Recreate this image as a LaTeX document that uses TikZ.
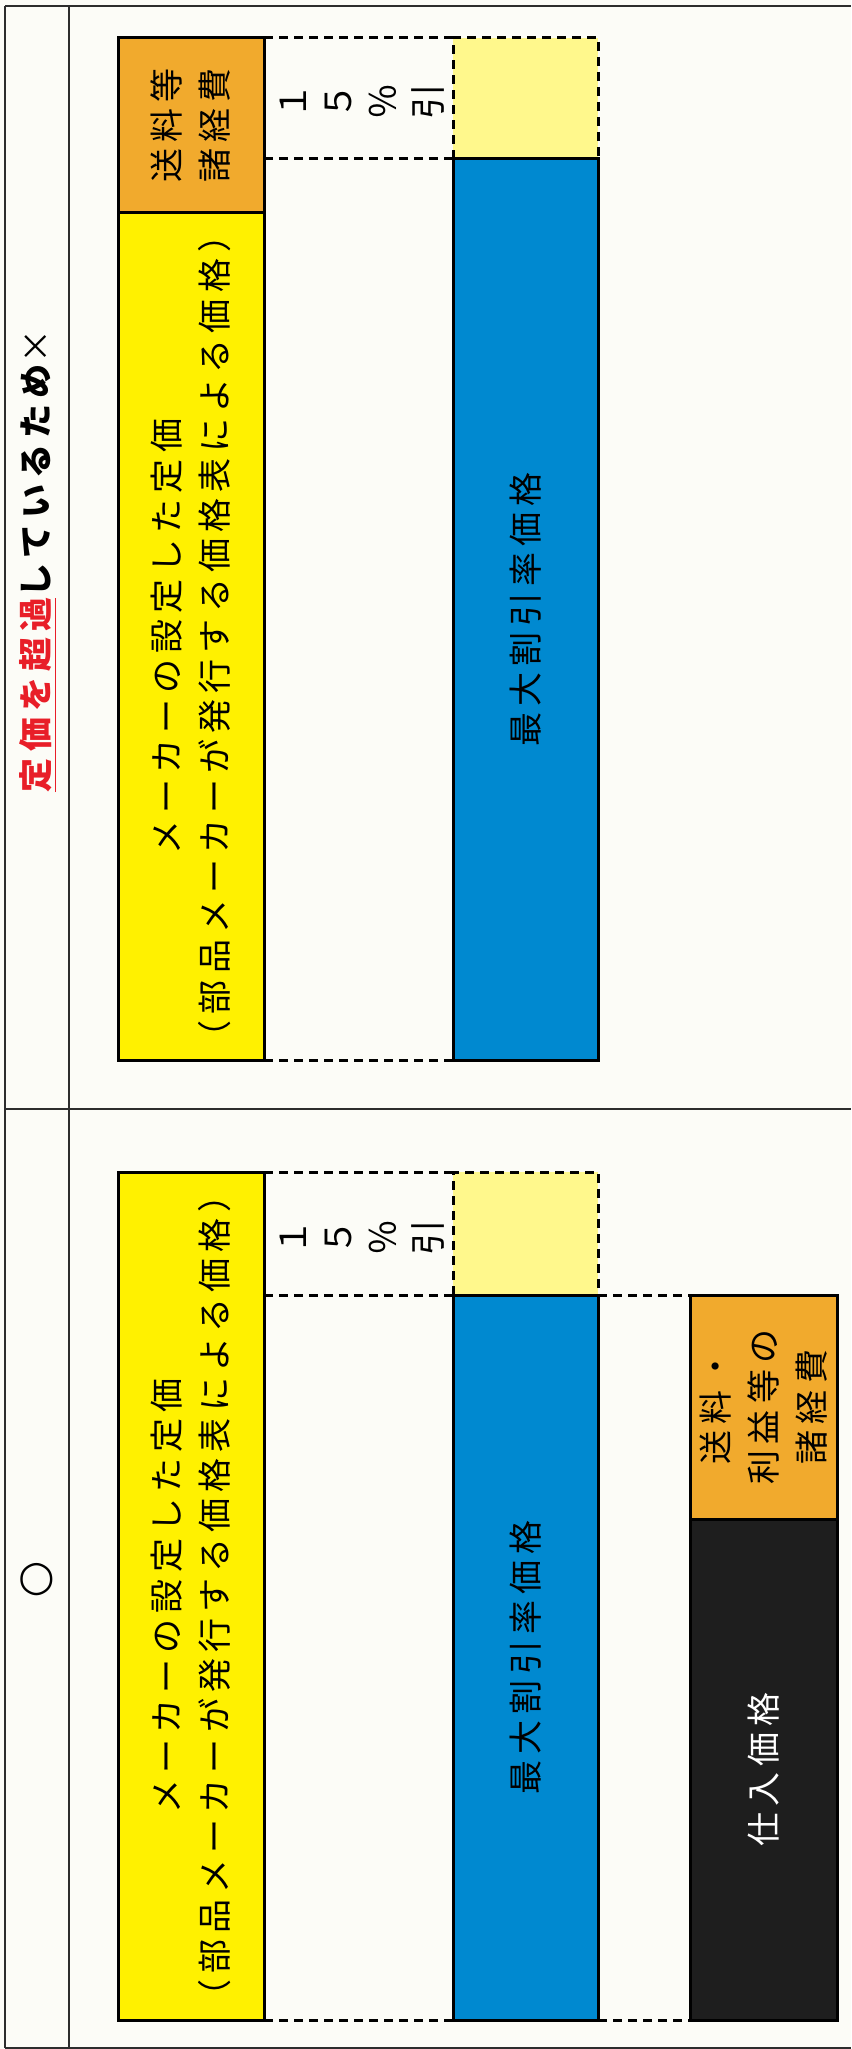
\documentclass[tikz,border=0pt]{standalone}
\usepackage{fontspec}
\setmainfont{Noto Sans CJK JP}
\newfontfamily\jp{Noto Sans CJK JP}
\newfontfamily\symf{DejaVu Sans}
\newfontfamily\jpsp[LetterSpace=18]{Noto Sans CJK JP}
\newfontfamily\jptitle[LetterSpace=18]{Noto Sans CJK JP}
\definecolor{bgc}{RGB}{252,252,247}
\definecolor{gridc}{RGB}{45,45,45}
\definecolor{yellowc}{RGB}{255,241,0}
\definecolor{lyellowc}{RGB}{255,248,140}
\definecolor{bluec}{RGB}{0,137,208}
\definecolor{orangec}{RGB}{241,170,45}
\definecolor{blackc}{RGB}{30,30,30}
\definecolor{titlered}{RGB}{232,30,40}
\begin{document}
\begin{tikzpicture}[x=0.5pt,y=-0.5pt,
  grid/.style={line width=1.3pt, draw=gridc},
  bar/.style={draw=black, line width=1.5pt, inner sep=0pt, outer sep=0pt, anchor=north west, rectangle},
  guide/.style={draw=black, line width=1.5pt, dash pattern=on 4.5pt off 3pt},
  lbl/.style={rotate=90, align=center, font=\jpsp\fontsize{17}{24}\selectfont, inner sep=0pt},
  vlbl/.style={rotate=90, align=center, font=\jp\fontsize{18}{22.5}\selectfont, inner sep=0pt},
]
\useasboundingbox (0,0) rectangle (851,2049);
\fill[bgc] (0,0) rectangle (851,2049);
% table grid
\draw[grid] (5,6) -- (851,6);
\draw[grid] (5,2048) -- (851,2048);
\draw[grid] (5,6) -- (5,2048);
\draw[grid] (69,6) -- (69,2048);
\draw[grid] (5,1109) -- (851,1109);
% headers
\node[rotate=90, inner sep=0pt, font=\jptitle\fontsize{17}{20}\selectfont\bfseries] (title) at (38,561)
  {\textcolor{titlered}{\underline{定価を超過}}しているため{\mdseries ×}};
\node[inner sep=0pt, font=\symf\fontsize{21}{21}\selectfont\bfseries] (ok) at (37,1580) {○};
% ---------- row 1 ----------
\node[bar, fill=orangec, minimum width=73pt, minimum height=87.5pt] (or1) at (118,38) {};
\node[bar, fill=yellowc, minimum width=73pt, minimum height=423.5pt] (ye1) at (118,213) {};
\node[bar, draw=none, fill=lyellowc, minimum width=72.5pt, minimum height=60.5pt] (ly1) at (453,38) {};
\draw[guide] (ly1.south west) -- (ly1.north west) -- (ly1.north east) -- (ly1.south east);
\node[bar, fill=bluec, minimum width=72.5pt, minimum height=450.5pt] (bl1) at (453,159) {};
\draw[guide] (or1.north east) -- (ly1.north west);
\draw[guide] (bl1.north west -| ye1.east) -- (bl1.north west);
\draw[guide] (ye1.south east) -- (bl1.south west);
\node[lbl] (t-or1) at (or1.center) {送料等\\諸経費};
\node[lbl] (t-ye1) at (ye1.center) {メーカーの設定した定価\\（部品メーカーが発行する価格表による価格）};
\node[vlbl] (t-pc1) at (362,102) {１\\５\\％\\引};
\node[lbl] (t-bl1) at (bl1.center) {最大割引率価格};
% ---------- row 2 ----------
\node[bar, fill=yellowc, minimum width=73pt, minimum height=424pt] (ye2) at (118,1172) {};
\node[bar, draw=none, fill=lyellowc, minimum width=72.5pt, minimum height=61.5pt] (ly2) at (453,1172) {};
\draw[guide] (ly2.south west) -- (ly2.north west) -- (ly2.north east) -- (ly2.south east);
\node[bar, fill=bluec, minimum width=72.5pt, minimum height=362.5pt] (bl2) at (453,1295) {};
\node[bar, fill=orangec, minimum width=73.5pt, minimum height=112pt] (or2) at (690,1295) {};
\node[bar, fill=blackc, minimum width=73.5pt, minimum height=250.5pt] (bk2) at (690,1519) {};
\draw[guide] (ye2.north east) -- (ly2.north west);
\draw[guide] (bl2.north west -| ye2.east) -- (bl2.north west);
\draw[guide] (bl2.north east) -- (or2.north west);
\draw[guide] (ye2.south east) -- (bl2.south west);
\draw[guide] (bl2.south east) -- (bk2.south west);
\node[lbl] (t-ye2) at (ye2.center) {メーカーの設定した定価\\（部品メーカーが発行する価格表による価格）};
\node[vlbl] (t-pc2) at (362,1237) {１\\５\\％\\引};
\node[lbl] (t-bl2) at (bl2.center) {最大割引率価格};
\node[lbl] (t-or2) at (or2.center) {送料・\\利益等の\\諸経費};
\node[lbl, text=white] (t-bk2) at (bk2.center) {仕入価格};
\end{tikzpicture}
\end{document}
